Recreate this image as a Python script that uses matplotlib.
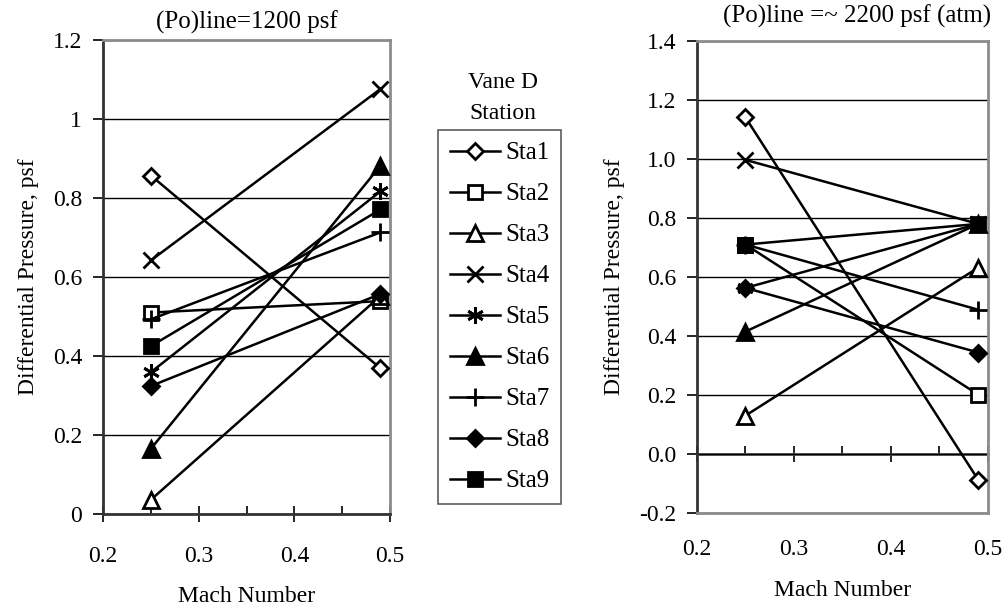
import matplotlib.pyplot as plt
from matplotlib.ticker import MultipleLocator, FormatStrFormatter

plt.rcParams['font.family'] = ['Liberation Serif', 'DejaVu Serif']

mach = [0.25, 0.49]
stations = ['Sta1', 'Sta2', 'Sta3', 'Sta4', 'Sta5', 'Sta6', 'Sta7', 'Sta8', 'Sta9']

# (Po)line = 1200 psf
low_start = [0.857, 0.510, 0.036, 0.642, 0.359, 0.165, 0.493, 0.324, 0.425]
low_end = [0.369, 0.539, 0.552, 1.076, 0.817, 0.882, 0.713, 0.557, 0.771]

# (Po)line ~ 2200 psf (atm)
atm_start = [1.141, 0.710, 0.130, 0.997, 0.563, 0.415, 0.710, 0.563, 0.710]
atm_end = [-0.088, 0.201, 0.632, 0.780, 0.780, 0.780, 0.489, 0.344, 0.780]

markers = ['D', 's', '^', 'x', (6, 2, 0), '^', '+', 'D', 's']
faces = ['white', 'white', 'white', 'black', 'black', 'black', 'black', 'black', 'black']
sizes = [8, 10, 11, 11, 12, 11, 13, 8, 10]

fig = plt.figure(figsize=(10.06, 6.12), dpi=100)
ax1 = fig.add_axes([0.1024, 0.1601, 0.2853, 0.7745])
ax2 = fig.add_axes([0.6928, 0.1618, 0.2893, 0.7712])


def draw(ax, start, end):
    handles = []
    for i, name in enumerate(stations):
        h, = ax.plot(mach, [start[i], end[i]], color='black', lw=1.8,
                     marker=markers[i], ms=sizes[i], mfc=faces[i], mec='black',
                     mew=2, label=name, clip_on=False, zorder=3)
        handles.append(h)
    ax.set_xlim(0.2, 0.5)
    ax.xaxis.set_major_locator(MultipleLocator(0.1))
    ax.xaxis.set_major_formatter(FormatStrFormatter('%.1f'))
    ax.yaxis.grid(True, color='black', lw=1.0)
    ax.set_axisbelow(True)
    for s in ['top', 'right', 'bottom']:
        ax.spines[s].set_color('#8c8c8c')
        ax.spines[s].set_linewidth(2)
    ax.spines['left'].set_color('#333333')
    ax.spines['left'].set_linewidth(2)
    ax.tick_params(axis='y', direction='out', length=7, labelsize=17, width=1.2, pad=8)
    ax.set_ylabel('Differential Pressure, psf', fontsize=17, labelpad=10)
    return handles


handles = draw(ax1, low_start, low_end)
ax1.set_ylim(0, 1.2)
ax1.set_yticks([0, 0.2, 0.4, 0.6, 0.8, 1.0, 1.2])
ax1.set_yticklabels(['0', '0.2', '0.4', '0.6', '0.8', '1', '1.2'])
ax1.spines['bottom'].set_color('#333333')
ax1.xaxis.set_minor_locator(MultipleLocator(0.05))
ax1.tick_params(axis='x', which='major', direction='inout', length=12, width=1.2,
                labelsize=17, pad=17)
ax1.tick_params(axis='x', which='minor', direction='in', length=6, width=1.2)
ax1.set_xlabel('Mach Number', fontsize=17, labelpad=14)
ax1.set_title('(Po)line=1200 psf', fontsize=18, pad=8)

draw(ax2, atm_start, atm_end)
ax2.set_ylim(-0.2, 1.4)
ax2.yaxis.set_major_locator(MultipleLocator(0.2))
ax2.yaxis.set_major_formatter(FormatStrFormatter('%.1f'))
ax2.tick_params(axis='x', which='both', length=0, labelsize=17, pad=19)
ax2.set_xlabel('Mach Number', fontsize=17, labelpad=14)
ax2.set_title('(Po)line =~ 2200 psf (atm)', fontsize=18, pad=13, x=0.55)
zero_axis = ax2.secondary_xaxis(0.125)
zero_axis.spines['bottom'].set_color('#555555')
zero_axis.spines['bottom'].set_linewidth(2)
zero_axis.xaxis.set_major_locator(MultipleLocator(0.1))
zero_axis.xaxis.set_minor_locator(MultipleLocator(0.05))
zero_axis.tick_params(axis='x', which='major', direction='inout', length=12, width=1.2,
                      labelbottom=False)
zero_axis.tick_params(axis='x', which='minor', direction='in', length=6, width=1.2)

fig.text(0.5, 0.866, 'Vane D', ha='center', va='center', fontsize=17)
fig.text(0.5, 0.815, 'Station', ha='center', va='center', fontsize=17)
leg = fig.legend(handles=handles, loc='upper left', bbox_to_anchor=(0.4354, 0.7876),
                 borderaxespad=0, frameon=True, fancybox=False, edgecolor='#333333',
                 fontsize=18, handlelength=2.0, labelspacing=0.74, borderpad=0.48,
                 handletextpad=0.2)
leg.get_frame().set_linewidth(1.2)

fig.savefig('out.png', dpi=100)
